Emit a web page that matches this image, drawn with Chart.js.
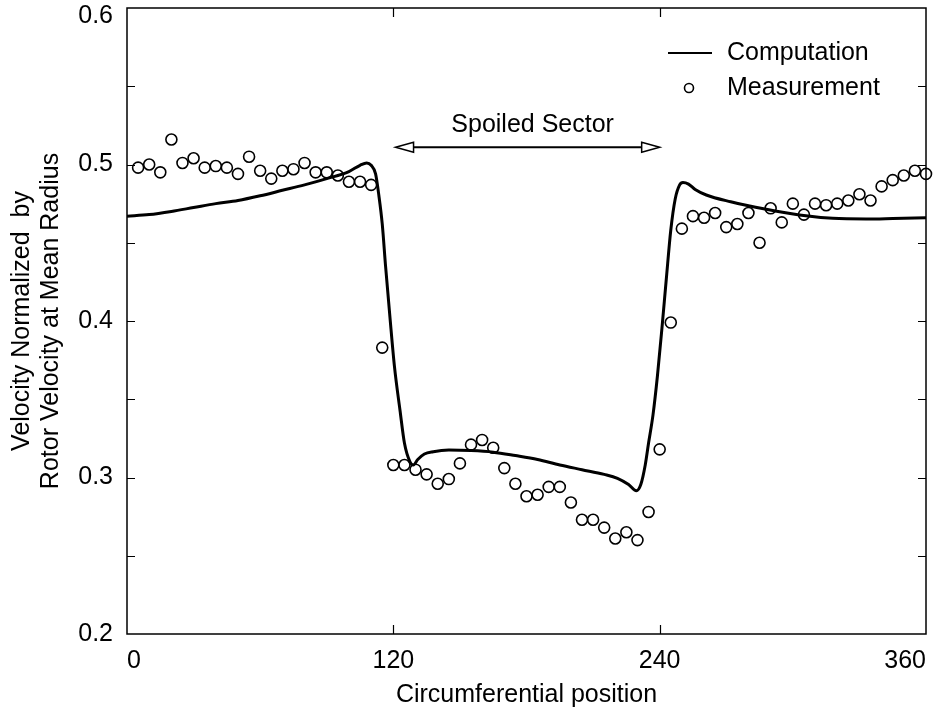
<!DOCTYPE html>
<html>
<head>
<meta charset="utf-8">
<script src="https://cdn.jsdelivr.net/npm/chart.js@4.4.1/dist/chart.umd.min.js"></script>
<style>
  html, body { margin: 0; padding: 0; background: #fff; }
</style>
</head>
<body>
<canvas id="chart" width="935" height="716"></canvas>
<script>
// Computed velocity along the circumference
const compX = [0, 10, 20, 30, 40, 50, 60, 70, 80, 90, 100, 105, 108, 110, 112, 113.5, 115, 116.5,
  118.5, 120.5, 123, 125, 127.5, 129, 131, 134, 138, 145, 155, 165, 175, 185, 195, 205, 215,
  221, 226, 229.5, 231.5, 233.5, 235, 237, 239, 241, 243, 245, 247, 249, 250.5, 253, 256, 261,
  272, 288, 303, 318, 333, 345, 360];
const compY = [0.467, 0.468, 0.470, 0.4725, 0.475, 0.477, 0.480, 0.4835, 0.487, 0.491, 0.4955,
  0.4995, 0.501, 0.4995, 0.494, 0.480, 0.462, 0.435, 0.402, 0.371, 0.343, 0.322, 0.310, 0.308,
  0.3115, 0.315, 0.3165, 0.3175, 0.3172, 0.3162, 0.314, 0.3115, 0.308, 0.305, 0.302, 0.2995,
  0.2955, 0.2915, 0.2955, 0.308, 0.322, 0.340, 0.365, 0.395, 0.427, 0.458, 0.478, 0.487, 0.4885,
  0.4875, 0.484, 0.4805, 0.4762, 0.4714, 0.4677, 0.4656, 0.4652, 0.4655, 0.466];

// Measured velocity
const measX = [5, 10, 15, 20, 25, 30, 35, 40, 45, 50, 55, 60, 65, 70, 75, 80, 85, 90, 95, 100,
  105, 110, 115, 120, 125, 130, 135, 140, 145, 150, 155, 160, 165, 170, 175, 180, 185, 190, 195,
  200, 205, 210, 215, 220, 225, 230, 235, 240, 245, 250, 255, 260, 265, 270, 275, 280, 285, 290,
  295, 300, 305, 310, 315, 320, 325, 330, 335, 340, 345, 350, 355, 360];
const measY = [0.498, 0.500, 0.495, 0.516, 0.501, 0.504, 0.498, 0.499, 0.498, 0.494, 0.505, 0.496,
  0.491, 0.496, 0.497, 0.501, 0.495, 0.495, 0.493, 0.489, 0.489, 0.487, 0.383, 0.308, 0.308, 0.305,
  0.302, 0.296, 0.299, 0.309, 0.321, 0.324, 0.319, 0.306, 0.296, 0.288, 0.289, 0.294, 0.294, 0.284,
  0.273, 0.273, 0.268, 0.261, 0.265, 0.260, 0.278, 0.318, 0.399, 0.459, 0.467, 0.466, 0.469, 0.460,
  0.462, 0.469, 0.450, 0.472, 0.463, 0.475, 0.468, 0.475, 0.474, 0.475, 0.477, 0.481, 0.477, 0.486,
  0.490, 0.493, 0.496, 0.494];

const xTicks = [0, 120, 240, 360];
const yTicks = [0.2, 0.3, 0.4, 0.5, 0.6];
const xTitle = "Circumferential position";
const yTitle = ["Velocity Normalized  by", "Rotor Velocity at Mean Radius"];
const seriesNames = ["Computation", "Measurement"];

// "Spoiled Sector" double arrow, in data units
const sectorLabel = "Spoiled Sector";
const sectorFrom = 121, sectorTo = 240, sectorY = 0.511, sectorTextY = 0.525;

const FONT_FAMILY = '"Liberation Sans", Arial, Helvetica, sans-serif';
const FONT = { family: FONT_FAMILY, size: 25 };

// frame with inward ticks, like the original plot
const framePlugin = {
  id: "frame",
  afterDraw(chart) {
    const { ctx, chartArea: a, scales } = chart;
    ctx.save();
    ctx.strokeStyle = "#000";
    ctx.lineWidth = 1.5;
    ctx.strokeRect(a.left, a.top, a.right - a.left, a.bottom - a.top);
    ctx.lineWidth = 1.2;
    ctx.beginPath();
    for (let v = 0.25; v < 0.6; v += 0.05) {
      const py = Math.round(scales.y.getPixelForValue(v)) + 0.5;
      ctx.moveTo(a.left, py); ctx.lineTo(a.left + 8, py);
      ctx.moveTo(a.right, py); ctx.lineTo(a.right - 8, py);
    }
    xTicks.slice(1, -1).forEach(v => {
      const px = Math.round(scales.x.getPixelForValue(v)) + 0.5;
      ctx.moveTo(px, a.bottom); ctx.lineTo(px, a.bottom - 9);
      ctx.moveTo(px, a.top); ctx.lineTo(px, a.top + 9);
    });
    ctx.stroke();
    ctx.restore();
  }
};

// double-headed arrow marking the spoiled sector
const sectorPlugin = {
  id: "sector",
  afterDraw(chart) {
    const { ctx, scales } = chart;
    const x1 = scales.x.getPixelForValue(sectorFrom);
    const x2 = scales.x.getPixelForValue(sectorTo);
    const y = scales.y.getPixelForValue(sectorY);
    const headLen = 18, headHalf = 5;
    ctx.save();
    ctx.strokeStyle = "#000";
    ctx.lineWidth = 2;
    ctx.beginPath();
    ctx.moveTo(x1 + headLen, y); ctx.lineTo(x2 - headLen, y);
    ctx.stroke();
    ctx.lineWidth = 1.5;
    ctx.fillStyle = "#fff";
    [[x1, 1], [x2, -1]].forEach(([tip, dir]) => {
      ctx.beginPath();
      ctx.moveTo(tip, y);
      ctx.lineTo(tip + dir * headLen, y - headHalf);
      ctx.lineTo(tip + dir * headLen, y + headHalf);
      ctx.closePath();
      ctx.fill();
      ctx.stroke();
    });
    ctx.fillStyle = "#000";
    ctx.font = `${FONT.size}px ${FONT_FAMILY}`;
    ctx.textAlign = "center";
    ctx.textBaseline = "middle";
    ctx.fillText(sectorLabel, (x1 + x2) / 2 + 5, scales.y.getPixelForValue(sectorTextY));
    ctx.restore();
  }
};

// legend in the top right of the plot
const legendPlugin = {
  id: "cornerLegend",
  afterDraw(chart) {
    const { ctx, chartArea: a } = chart;
    const sets = chart.data.datasets;
    const textX = a.left + 600, markX0 = a.left + 541, markX1 = a.left + 585;
    const rowY = [a.top + 45, a.top + 80];
    ctx.save();
    ctx.fillStyle = "#000";
    ctx.strokeStyle = "#000";
    ctx.font = `${FONT.size}px ${FONT_FAMILY}`;
    ctx.textBaseline = "middle";
    ctx.textAlign = "left";
    // line sample
    ctx.lineWidth = 2;
    ctx.beginPath();
    ctx.moveTo(markX0, rowY[0]); ctx.lineTo(markX1, rowY[0]);
    ctx.stroke();
    ctx.fillText(sets[0].label, textX, rowY[0]);
    // marker sample
    ctx.lineWidth = sets[1].pointBorderWidth;
    ctx.beginPath();
    ctx.arc((markX0 + markX1) / 2 - 1, rowY[1], 4.5, 0, Math.PI * 2);
    ctx.stroke();
    ctx.fillText(sets[1].label, textX, rowY[1]);
    ctx.restore();
  }
};

const lastY = yTicks.length - 1;

const ctx = document.getElementById("chart").getContext("2d");
new Chart(ctx, {
  type: "line",
  data: {
    datasets: [
      {
        label: seriesNames[0],
        data: compX.map((x, i) => ({ x, y: compY[i] })),
        borderColor: "#000",
        borderWidth: 3,
        pointRadius: 0,
        cubicInterpolationMode: "monotone",
        fill: false
      },
      {
        label: seriesNames[1],
        data: measX.map((x, i) => ({ x, y: measY[i] })),
        showLine: false,
        pointStyle: "circle",
        pointRadius: 5.5,
        pointBorderWidth: 1.6,
        pointBorderColor: "#000",
        pointBackgroundColor: "rgba(255,255,255,0)",
        clip: false
      }
    ]
  },
  options: {
    responsive: false,
    animation: false,
    layout: { padding: { top: 8, right: 9, left: 0, bottom: 0 } },
    plugins: {
      legend: { display: false },
      tooltip: { enabled: false }
    },
    scales: {
      x: {
        type: "linear",
        min: xTicks[0],
        max: xTicks[xTicks.length - 1],
        grid: { display: false, drawTicks: false },
        border: { display: false },
        ticks: {
          stepSize: 120,
          align: "inner",
          padding: 12,
          maxRotation: 0,
          color: "#000",
          font: FONT
        },
        title: {
          display: true,
          text: xTitle,
          color: "#000",
          font: { ...FONT, lineHeight: 1.2 },
          padding: { top: 0, bottom: 6 }
        },
        afterFit: s => { s.height = 82; s.paddingLeft = 0; s.paddingRight = 0; }
      },
      y: {
        min: yTicks[0],
        max: yTicks[lastY],
        grid: { display: false, drawTicks: false },
        border: { display: false },
        ticks: {
          stepSize: 0.1,
          padding: 14,
          color: "#000",
          // top label sits a little below its tick so it is not cut off
          font: c => (c.index === lastY ? { ...FONT, lineHeight: 0.64 } : FONT),
          callback: (v, i) => (i === lastY ? ["", v.toFixed(1)] : v.toFixed(1))
        },
        title: {
          display: true,
          text: yTitle,
          color: "#000",
          font: { ...FONT, lineHeight: 1.16 },
          padding: { top: 7.5, bottom: 0 }
        },
        afterFit: s => { s.width = 127; s.paddingTop = 0; s.paddingBottom = 0; }
      }
    }
  },
  plugins: [framePlugin, sectorPlugin, legendPlugin]
});
</script>
</body>
</html>
